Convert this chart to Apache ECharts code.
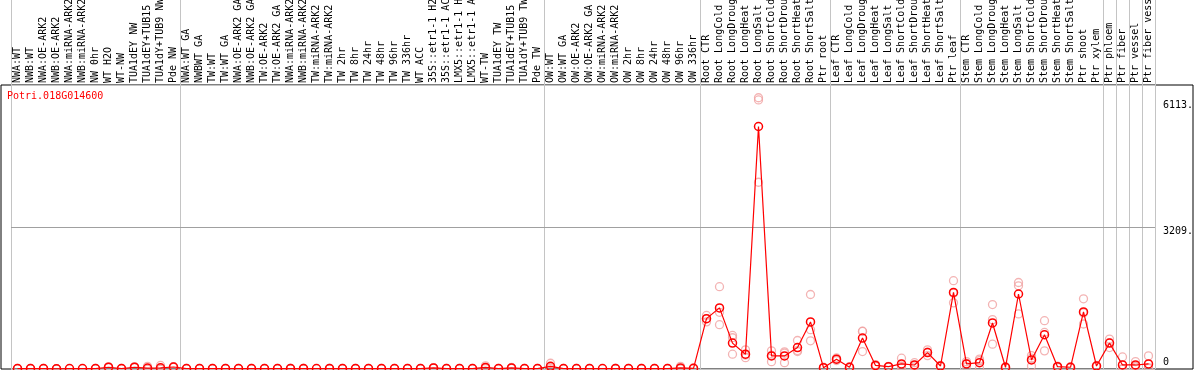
<!DOCTYPE html>
<html>
<head>
<meta charset="utf-8">
<script src="https://cdn.jsdelivr.net/npm/echarts@6/dist/echarts.min.js"></script>
<style>
html,body{margin:0;padding:0;background:#fff;}
#chart{width:1194px;height:370px;}
</style>
</head>
<body>
<div id="chart"></div>
<script>
// ---------- DATA ----------
const geneName = 'Potri.018G014600';

const catGroup1 = ['NWA:WT','NWB:WT','NWA:OE-ARK2','NWB:OE-ARK2','NWA:miRNA-ARK2','NWB:miRNA-ARK2','NW 0hr','WT H2O','WT-NW','TUA1dEY NW','TUA1dEY+TUB15 NW','TUA1dY+TUB9 NW','Pde NW'];
const catGroup2 = ['NWA:WT GA','NWBWT GA','TW:WT','TW:WT GA','NWA:OE-ARK2 GA','NWB:OE-ARK2 GA','TW:OE-ARK2','TW:OE-ARK2 GA','NWA:miRNA-ARK2','NWB:miRNA-ARK2','TW:miRNA-ARK2','TW:miRNA-ARK2','TW 2hr','TW 8hr','TW 24hr','TW 48hr','TW 96hr','TW 336hr','WT ACC','35S::etr1-1 H2O','35S::etr1-1 ACC','LMX5::etr1-1 H2O','LMX5::etr1-1 ACC','WT-TW','TUA1dEY TW','TUA1dEY+TUB15 TW','TUA1dY+TUB9 TW','Pde TW'];
const catGroup3 = ['OW:WT','OW:WT GA','OW:OE-ARK2','OW:OE-ARK2 GA','OW:miRNA-ARK2','OW:miRNA-ARK2','OW 2hr','OW 8hr','OW 24hr','OW 48hr','OW 96hr','OW 336hr'];
const catGroup4 = ['Root CTR','Root LongCold','Root LongDrought','Root LongHeat','Root LongSalt','Root ShortCold','Root ShortDrought','Root ShortHeat','Root ShortSalt','Ptr root'];
const catGroup5 = ['Leaf CTR','Leaf LongCold','Leaf LongDrought','Leaf LongHeat','Leaf LongSalt','Leaf ShortCold','Leaf ShortDrought','Leaf ShortHeat','Leaf ShortSalt','Ptr leaf'];
const catGroup6 = ['Stem CTR','Stem LongCold','Stem LongDrought','Stem LongHeat','Stem LongSalt','Stem ShortCold','Stem ShortDrought','Stem ShortHeat','Stem ShortSalt','Ptr shoot','Ptr xylem'];
const catGroup7 = ['Ptr phloem'];
const catGroup8 = ['Ptr fiber'];
const catGroup9 = ['Ptr vessel'];
const catGroup10 = ['Ptr fiber vessel'];

const meanGroup1 = [10,10,10,5,10,10,10,40,10,40,20,27,45];
const meanGroup2 = [10,10,10,10,10,10,10,10,10,10,10,10,10,10,10,10,10,10,10,25,10,10,10,35,10,25,10,10];
const meanGroup3 = [60,10,10,10,10,10,10,10,10,10,25,15];
const meanGroup4 = [1138,1381,585,335,5480,296,296,485,1063,30];
const meanGroup5 = [221,39,699,80,52,114,91,371,68,1730];
const meanGroup6 = [114,143,1040,39,1695,205,774,52,39,1290,68];
const meanGroup7 = [585];
const meanGroup8 = [91];
const meanGroup9 = [91];
const meanGroup10 = [114];

const repGroup1 = [[12,10,8],[12,10,8],[12,10,8],[6,5,4],[12,10,8],[12,10,8],[12,10,8],[50,40,30],[12,10,8],[50,40,30],[60,0,0],[80,0,0],[55,45,35]];
const repGroup2 = [[12,10,8],[12,10,8],[12,10,8],[12,10,8],[12,10,8],[12,10,8],[12,10,8],[12,10,8],[12,10,8],[12,10,8],[12,10,8],[12,10,8],[12,10,8],[12,10,8],[12,10,8],[12,10,8],[12,10,8],[12,10,8],[12,10,8],[30,25,20],[12,10,8],[12,10,8],[12,10,8],[70,25,10],[12,10,8],[35,25,15],[12,10,8],[12,10,8]];
const repGroup3 = [[130,40,10],[12,10,8],[12,10,8],[12,10,8],[12,10,8],[12,10,8],[12,10,8],[12,10,8],[12,10,8],[12,10,8],[60,10,5],[20,15,10]];
const repGroup4 = [[1210,1140,1065],[1860,1281,1001],[758,706,335],[432,316,257],[6130,6080,4220],[410,312,166],[388,357,143],[644,417,394],[1684,888,637],[40,30,20]];
const repGroup5 = [[250,221,192],[50,40,27],[854,849,394],[100,80,60],[60,52,44],[244,60,38],[143,80,50],[432,378,303],[80,68,56],[1995,1713,1495]];
const repGroup6 = [[166,124,52],[223,190,16],[1457,1115,562],[50,39,28],[1955,1880,1245],[303,244,68],[1092,826,410],[65,52,39],[50,39,28],[1586,1267,1017],[80,68,56]];
const repGroup7 = [[676,594,485]];
const repGroup8 = [[273,0,0]];
const repGroup9 = [[166,60,47]];
const repGroup10 = [[296,30,16]];

const yTickValues = [0, 3209, 6113];
const yTickLabels = ['0', '3209.', '6113.'];
const yGridLines = [3209];
const yGridStep = 3209;
const yMax = 6418;

// ---------- BUILD ----------
const catGroups = [catGroup1,catGroup2,catGroup3,catGroup4,catGroup5,catGroup6,catGroup7,catGroup8,catGroup9,catGroup10];
const categories = [].concat(...catGroups);
const means = [].concat(meanGroup1,meanGroup2,meanGroup3,meanGroup4,meanGroup5,meanGroup6,meanGroup7,meanGroup8,meanGroup9,meanGroup10);
const reps = [].concat(repGroup1,repGroup2,repGroup3,repGroup4,repGroup5,repGroup6,repGroup7,repGroup8,repGroup9,repGroup10);

const groupStarts = new Set();
let acc = 0;
catGroups.forEach(g => { groupStarts.add(acc); acc += g.length; });

const repData = [];
reps.forEach((arr, i) => arr.forEach(v => repData.push([categories[i], v])));

const FONT = 'DejaVu Sans Mono';
const GRAY = '#c4c4c4';
const HGRID = '#a0a0a0';

const labelPad = {
  '0': [0,0,14,0],
  '3209.': [8,0,0,0],
  '6113.': [14,0,0,0]
};
const rich = {};
yTickLabels.forEach((t, k) => {
  rich['k' + k] = {fontFamily: FONT, fontSize: 10, color: '#000', padding: labelPad[t]};
});
const tickMarkData = yTickValues.map((v, k) => ({
  yAxis: v,
  lineStyle: {color: yGridLines.indexOf(v) >= 0 ? HGRID : 'rgba(0,0,0,0)', width: 1, type: 'solid', opacity: 1},
  label: {formatter: '{k' + k + '|' + yTickLabels[k] + '}'}
}));

const chart = echarts.init(document.getElementById('chart'), null, {renderer: 'canvas'});
chart.setOption({
  animation: false,
  backgroundColor: '#fff',
  title: {
    text: geneName, left: 7, top: 91, padding: 0,
    textStyle: {color: '#ff0000', fontSize: 10, fontFamily: FONT, fontWeight: 'normal'}
  },
  grid: [
    {left: 11, right: 39, top: 85, bottom: 1, containLabel: false, outerBoundsMode: 'none'},
    {left: 11, right: 39, top: 0, height: 85, containLabel: false, outerBoundsMode: 'none'},
    {left: 1, right: 1, top: 85, bottom: 1, show: true, borderColor: '#000', borderWidth: 1, containLabel: false, outerBoundsMode: 'none'}
  ],
  xAxis: [
    {
      type: 'category', gridIndex: 0, data: categories, position: 'top', boundaryGap: true,
      axisLine: {show: false}, axisTick: {show: false},
      axisLabel: {interval: 0, rotate: 90, margin: 2, fontSize: 10, fontFamily: FONT, color: '#000', hideOverlap: false},
      splitLine: {show: true, interval: (idx) => groupStarts.has(idx), lineStyle: {color: GRAY, width: 1}}
    },
    {
      type: 'category', gridIndex: 1, data: categories, boundaryGap: true,
      axisLine: {show: false}, axisTick: {show: false}, axisLabel: {show: false},
      splitLine: {show: true, interval: (idx) => groupStarts.has(idx), lineStyle: {color: GRAY, width: 1}}
    },
    {type: 'value', gridIndex: 2, show: false}
  ],
  yAxis: [
    {
      type: 'value', gridIndex: 0, position: 'right', min: 0, max: yMax, interval: yGridStep,
      axisLine: {show: false}, axisTick: {show: false}, axisLabel: {show: false},
      splitLine: {show: true, lineStyle: {color: GRAY, width: 1, type: 'solid'}}
    },
    {type: 'value', gridIndex: 1, show: false},
    {type: 'value', gridIndex: 2, show: false}
  ],
  series: [
    {
      type: 'scatter', xAxisIndex: 0, yAxisIndex: 0, data: repData,
      symbol: 'circle', symbolSize: 8, z: 2,
      itemStyle: {color: 'rgba(0,0,0,0)', borderColor: '#f0a0a0', borderWidth: 1.3}
    },
    {
      type: 'line', xAxisIndex: 0, yAxisIndex: 0, data: means,
      symbol: 'circle', symbolSize: 8, showAllSymbol: true, z: 3,
      lineStyle: {color: '#ff0000', width: 1.2},
      itemStyle: {color: 'rgba(0,0,0,0)', borderColor: '#ff0000', borderWidth: 1.5},
      markLine: {
        silent: true, symbol: 'none', z: 1,
        lineStyle: {color: 'rgba(0,0,0,0)', width: 1, type: 'solid'},
        label: {show: true, position: 'end', distance: 8, align: 'left', rich: rich},
        emphasis: {disabled: true},
        data: tickMarkData
      }
    }
  ]
});
</script>
</body>
</html>
